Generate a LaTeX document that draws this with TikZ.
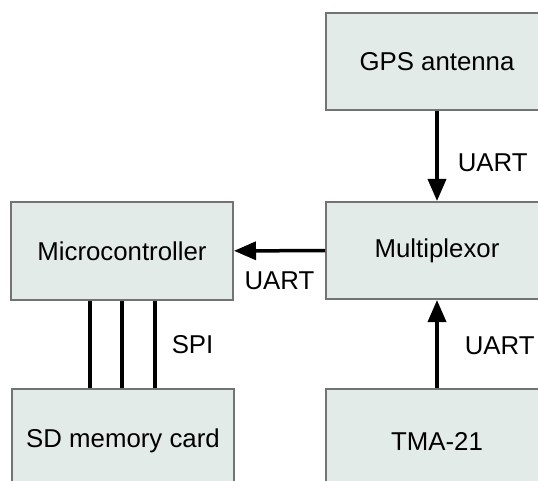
\documentclass[tikz,border=0pt]{standalone}
\usepackage{fontspec}
\setmainfont{Liberation Sans}
\usetikzlibrary{arrows.meta}
\definecolor{boxfill}{HTML}{E3EBE9}
\definecolor{boxline}{HTML}{737373}
\tikzstyle{block}=[draw=boxline,fill=boxfill,line width=2pt,minimum width=222pt,minimum height=97pt,inner sep=0pt]
\tikzstyle{tallblock}=[block,minimum height=104pt]
\tikzstyle{bus}=[line width=3.5pt]
\tikzstyle{link}=[bus,-{Triangle[length=22pt,width=18pt]}]
\tikzstyle{lbl}=[inner sep=0pt,anchor=west]
\newcommand{\picfont}{\fontsize{25.8}{30}\selectfont}

\begin{document}
\begin{tikzpicture}[x=1pt,y=-1pt,font=\picfont]
    \useasboundingbox (0,0) rectangle (538,481);
    \clip (0,0) rectangle (538,481);
    \node[block] (gps) at (437,61.5)   {GPS antenna};
    \node[block] (mux) at (437,250.5)  {Multiplexor};
    \node[block] (mcu) at (122,251)    {Microcontroller};
    \node[tallblock] (sd)  at (123,441) {SD memory card};
    \node[tallblock] (tma) at (437,441) {TMA-21};
%   UART links
    \draw[link] (gps) -- (mux) node[lbl,midway,xshift=19pt,yshift=-7pt] {UART};
    \draw[link] (mux) -- (mcu) node[midway,inner sep=0pt,yshift=-30pt] {UART};
    \draw[link] (tma) -- (mux) node[lbl,midway,xshift=26pt,yshift=-2pt] {UART};
%   SPI bus
    \draw[bus] ([xshift=-32pt]mcu.south) -- ([xshift=-33pt]sd.north);
    \draw[bus] (mcu.south) -- ([xshift=-1pt]sd.north);
    \draw[bus] ([xshift=33pt]mcu.south) -- ([xshift=32pt]sd.north)
        node[lbl,midway,xshift=15pt] {SPI};
\end{tikzpicture}
\end{document}
